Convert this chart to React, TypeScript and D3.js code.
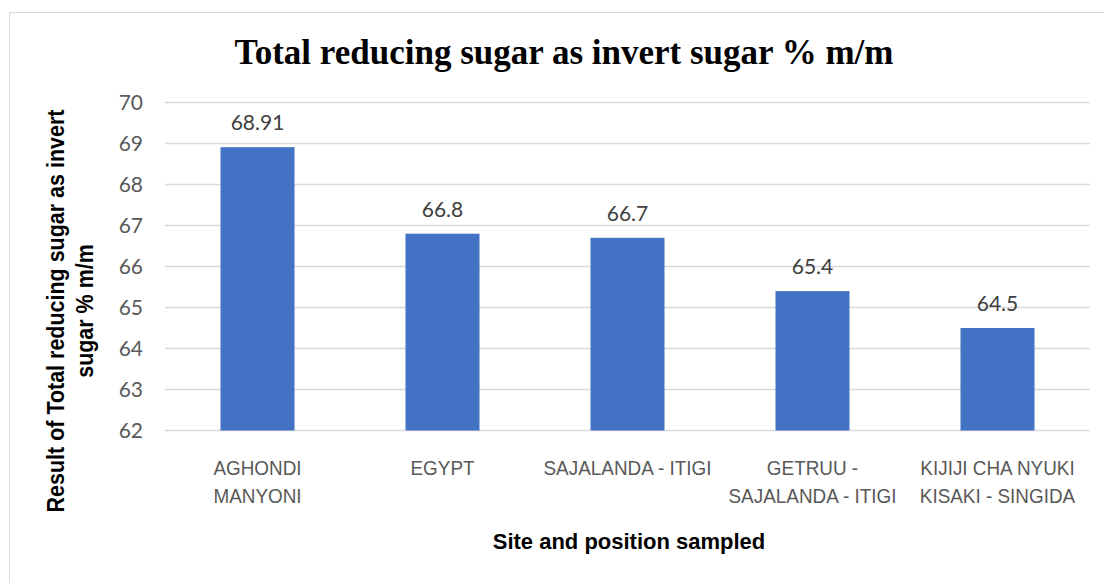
import React from "react";
import * as d3 from "d3";

const categories: string[][] = [
  ["AGHONDI", "MANYONI"],
  ["EGYPT"],
  ["SAJALANDA - ITIGI"],
  ["GETRUU -", "SAJALANDA - ITIGI"],
  ["KIJIJI CHA NYUKI", "KISAKI - SINGIDA"],
];
const values: number[] = [68.91, 66.8, 66.7, 65.4, 64.5];
const valueLabels: string[] = ["68.91", "66.8", "66.7", "65.4", "64.5"];
const yTicks: number[] = [62, 63, 64, 65, 66, 67, 68, 69, 70];
const title = "Total reducing sugar as invert sugar % m/m";
const xTitle = "Site and position sampled";
const yTitleLines = ["Result of Total reducing sugar as invert", "sugar % m/m"];

const W = 1104;
const H = 583;
const plot = { left: 165, right: 1090, top: 102.5, bottom: 430.5 };

export default function App() {
  const x = d3
    .scaleBand<number>()
    .domain(categories.map((_, i) => i))
    .range([plot.left, plot.right])
    .padding(0);
  const y = d3.scaleLinear().domain([62, 70]).range([plot.bottom, plot.top]);
  const barW = x.bandwidth() * 0.4;
  const numFont = "Lato, 'Open Sans', sans-serif";
  const sans = "'Liberation Sans', Arial, sans-serif";

  return (
    <svg
      width={W}
      height={H}
      style={{ position: "absolute", left: 0, top: 0, background: "#fff" }}
    >
      <rect x={9.5} y={12.5} width={1110} height={590} fill="#fff" stroke="#d9d9d9" strokeWidth={1} />
      <text
        x={564}
        y={64}
        textAnchor="middle"
        fontFamily="'Liberation Serif', 'Times New Roman', serif"
        fontWeight="bold"
        fontSize={35}
        fill="#000"
      >
        {title}
      </text>
      {yTicks.map((t) => (
        <g key={t}>
          <line
            x1={plot.left}
            x2={plot.right}
            y1={y(t)}
            y2={y(t)}
            stroke="#d9d9d9"
            strokeWidth={1.3}
          />
          <text
            x={143}
            y={y(t)}
            dy="0.36em"
            textAnchor="end"
            fontFamily={numFont}
            fontSize={21}
            fill="#595959"
          >
            {t}
          </text>
        </g>
      ))}
      {values.map((v, i) => {
        const cx = (x(i) as number) + x.bandwidth() / 2;
        return (
          <g key={i}>
            <rect x={cx - barW / 2} y={y(v)} width={barW} height={y(62) - y(v)} fill="#4472c4" />
            <text
              x={cx}
              y={y(v) - 17}
              textAnchor="middle"
              fontFamily={numFont}
              fontSize={21}
              fill="#404040"
            >
              {valueLabels[i]}
            </text>
            {categories[i].map((line, j) => (
              <text
                key={j}
                transform={`translate(${cx},${475 + j * 28}) scale(0.9,1)`}
                textAnchor="middle"
                fontFamily={sans}
                fontSize={21}
                fill="#595959"
              >
                {line}
              </text>
            ))}
          </g>
        );
      })}
      <text
        x={629}
        y={549}
        textAnchor="middle"
        fontFamily={sans}
        fontWeight="bold"
        fontSize={22}
        fill="#000"
      >
        {xTitle}
      </text>
      {yTitleLines.map((l, j) => (
        <text
          key={j}
          transform={`translate(${64 + j * 29},${311}) rotate(-90) scale(0.895,1)`}
          textAnchor="middle"
          fontFamily={sans}
          fontWeight="bold"
          fontSize={24}
          fill="#000"
        >
          {l}
        </text>
      ))}
    </svg>
  );
}
